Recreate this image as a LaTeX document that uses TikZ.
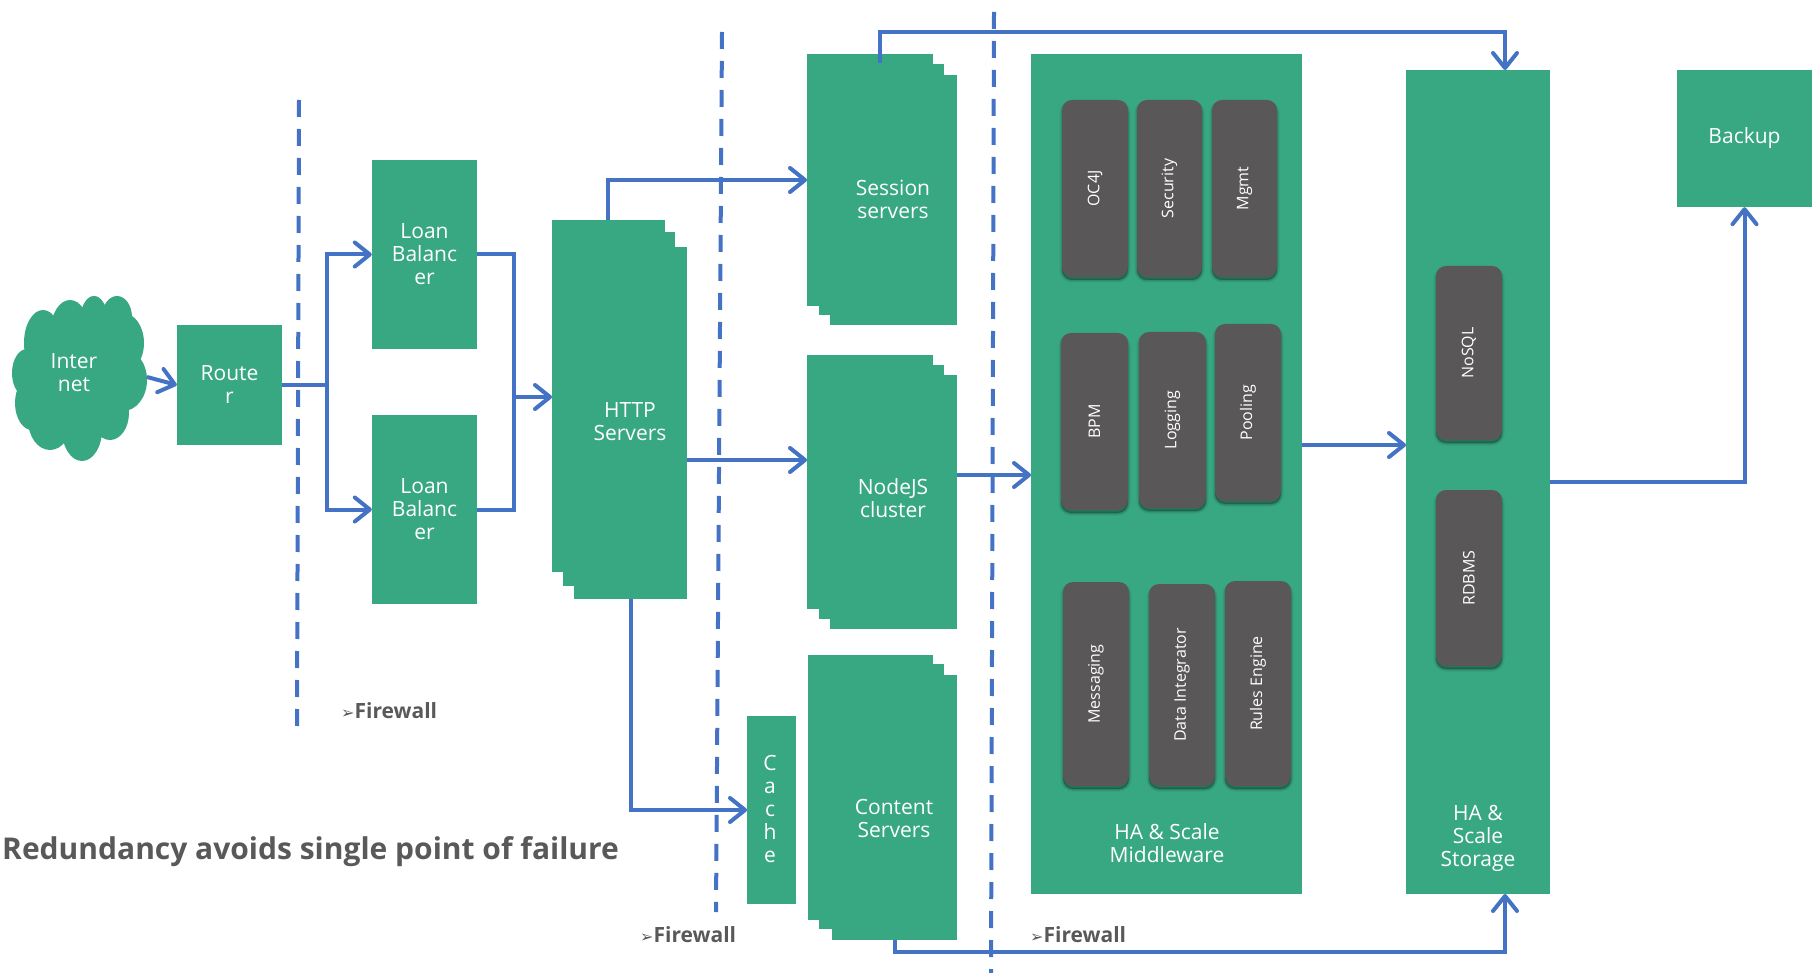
\documentclass[tikz,border=0pt]{standalone}
\usepackage{fontspec}
\setmainfont{Open Sans}
\newfontfamily\symfont{DejaVu Sans}
\usetikzlibrary{arrows.meta,shadows,calc}
\definecolor{teal1}{HTML}{38A882}
\definecolor{dark1}{HTML}{595757}
\definecolor{link}{HTML}{4472C4}
\definecolor{greytxt}{HTML}{595959}
\tikzset{
  box/.style={fill=teal1,text=white,inner sep=0pt,align=center,font=\fontsize{21}{23}\selectfont,anchor=center},
  softshadow/.style={
    general shadow={fill=black,opacity=.07,draw=black,line width=5pt,rounded corners=10pt,shadow yshift=-3pt},
    general shadow={fill=black,opacity=.10,draw=black,line width=2.5pt,rounded corners=10pt,shadow yshift=-3pt},
    general shadow={fill=black,opacity=.14,rounded corners=10pt,shadow yshift=-3pt}},
  chip/.style={softshadow,fill=dark1,text=white,rounded corners=10pt,inner sep=0pt,anchor=center,font=\fontsize{16}{18}\selectfont},
  chiptext/.style={text=white,rotate=90,inner sep=0pt,font=\fontsize{16}{18}\selectfont},
  link/.style={draw=link,line width=4pt,-{Straight Barb[length=15pt,width=24pt,line width=4pt,round]},line join=miter},
  fwall/.style={draw=link,line width=4pt,dash pattern=on 17pt off 12pt},
  note/.style={text=greytxt,font=\fontsize{21}{23}\selectfont\bfseries,inner sep=0pt,anchor=west},
  label/.style={text=white,align=center,inner sep=0pt,font=\fontsize{21}{23}\selectfont},
}
% name, x0,y0,x1,y1, text
\newcommand{\rbox}[6]{%
  \pgfmathsetmacro{\cxx}{(#2+#4)/2}\pgfmathsetmacro{\cyy}{(#3+#5)/2}%
  \pgfmathsetmacro{\ww}{#4-#2}\pgfmathsetmacro{\hh}{#5-#3}%
  \node[box,minimum width=\ww pt,minimum height=\hh pt] (#1) at (\cxx,\cyy) {#6};}
\newcommand{\cchip}[6]{%
  \pgfmathsetmacro{\cxx}{(#2+#4)/2}\pgfmathsetmacro{\cyy}{(#3+#5)/2}%
  \pgfmathsetmacro{\ww}{#4-#2}\pgfmathsetmacro{\hh}{#5-#3}%
  \node[chip,minimum width=\ww pt,minimum height=\hh pt] (#1) at (\cxx,\cyy) {};
  \node[chiptext] (#1t) at (\cxx,\cyy) {#6};}
\begin{document}
\begin{tikzpicture}[x=1pt,y=-1pt]
\useasboundingbox (0,0) rectangle (1812,973);
% firewalls
\coordinate (f1a) at (299,100); \coordinate (f1b) at (297,728);
\coordinate (f2a) at (722,32);  \coordinate (f2b) at (716,912);
\coordinate (f3a) at (994,12);  \coordinate (f3b) at (991,973);
\draw[fwall] (f1a) -- (f1b);
\draw[fwall] (f2a) -- (f2b);
\draw[fwall] (f3a) -- (f3b);
% cloud
\fill[teal1] (43,343) ellipse (19 and 33) (70,330) ellipse (19 and 30) (94,317) ellipse (13 and 21)
  (117,317) ellipse (15 and 21) (123,343) ellipse (21 and 30) (123,380) ellipse (24 and 31)
  (110,413) ellipse (19 and 27) (82,430) ellipse (20 and 31) (50,420) ellipse (22 and 30)
  (32,403) ellipse (17 and 27) (27,373) ellipse (15 and 24) (78,378) ellipse (52 and 62);
\node[label] (inet) at (74,373) {Inter\\net};
\coordinate (inetout) at (147,377);
% boxes
\rbox{router}{177}{325}{282}{445}{Route\\r}
\rbox{lb1}{372}{160}{477}{349}{Loan\\Balanc\\er}
\rbox{lb2}{372}{415}{477}{604}{Loan\\Balanc\\er}
% HTTP stack
\rbox{http3}{574}{247}{687}{599}{}
\rbox{http2}{563}{232}{675}{586}{}
\rbox{http1}{552}{220}{665}{572}{}
\node[label] (httpt) at (630,422) {HTTP\\Servers};
% Session stack
\rbox{sess3}{830}{75}{957}{325}{}
\rbox{sess2}{819}{64}{944}{315}{}
\rbox{sess1}{807}{54}{933}{306}{}
\node[label] (sesst) at (893,199) {Session\\servers};
% NodeJS stack
\rbox{node3}{830}{375}{957}{629}{}
\rbox{node2}{819}{365}{944}{619}{}
\rbox{node1}{807}{355}{933}{609}{}
\node[label] (nodet) at (893,498) {NodeJS\\cluster};
% Content stack
\rbox{cont3}{832}{675}{957}{940}{}
\rbox{cont2}{819}{664}{944}{929}{}
\rbox{cont1}{808}{655}{933}{920}{}
\node[label] (contt) at (894,818) {Content\\Servers};
\rbox{cache}{747}{716}{796}{904}{}
\node[label] (cachet) at (770,809) {C\\a\\c\\h\\e};
% middleware
\rbox{mid}{1031}{54}{1302}{894}{}
\node[label] (midt) at (1167,843) {HA \& Scale\\Middleware};
\rbox{stor}{1406}{70}{1550}{894}{}
\node[label] (stort) at (1478,838) {HA \&\\Scale\\Storage};
\rbox{backup}{1677}{70}{1812}{207}{Backup}
% chips
\cchip{oc}{1062}{100}{1128}{277}{OC4J}
\cchip{sec}{1137}{100}{1202}{277}{Security}
\cchip{mg}{1212}{100}{1277}{277}{Mgmt}
\cchip{bpm}{1061}{333}{1128}{510}{BPM}
\cchip{log}{1139}{332}{1206}{508}{Logging}
\cchip{pool}{1215}{324}{1281}{501}{Pooling}
\cchip{msg}{1063}{582}{1129}{786}{Messaging}
\cchip{di}{1149}{584}{1215}{786}{Data Integrator}
\cchip{rul}{1225}{581}{1291}{786}{Rules Engine}
\cchip{nosql}{1436}{266}{1502}{440}{NoSQL}
\cchip{rdb}{1436}{490}{1502}{666}{RDBMS}
% connectors
\coordinate (j1) at (327,385);
\coordinate (j2) at (514,397);
\draw[link] (inetout) -- (router.west);
\draw[link] (router.east) -- (j1) |- (lb1.west);
\draw[link] (j1) |- (lb2.west);
\draw[draw=link,line width=4pt] (lb1.east) -| (j2);
\draw[draw=link,line width=4pt] (lb2.east) -| (j2);
\coordinate (httpin) at (552,397);
\draw[link] (j2) -- (httpin);
\coordinate (hs) at (608,220); \coordinate (ss) at (807,180);
\draw[link] (hs) |- (ss);
\coordinate (hn) at (687,460); \coordinate (ns) at (807,460);
\draw[link] (hn) -- (ns);
\coordinate (hc) at (631,599); \coordinate (cc) at (747,810);
\draw[link] (hc) |- (cc);
\coordinate (nm) at (957,475); \coordinate (mn) at (1031,475);
\draw[link] (nm) -- (mn);
\coordinate (ms) at (1302,445); \coordinate (sm) at (1406,445);
\draw[link] (ms) -- (sm);
\coordinate (sb) at (1550,482);
\draw[link] (sb) -| (backup.south);
\coordinate (st) at (880,63); \coordinate (sn) at (880,32); \coordinate (stn) at (1505,70);
\draw[link] (st) -- (sn) -| (stn);
\coordinate (cs) at (895,940); \coordinate (cn) at (895,952); \coordinate (stb) at (1505,894);
\draw[link] (cs) -- (cn) -| (stb);
% notes
\node[note] (n1) at (341,711) {{\symfont\fontsize{16}{18}\selectfont ➢}Firewall};
\node[note] (n2) at (640,935) {{\symfont\fontsize{16}{18}\selectfont ➢}Firewall};
\node[note] (n3) at (1030,935) {{\symfont\fontsize{16}{18}\selectfont ➢}Firewall};
\node[note,font=\fontsize{30}{32}\selectfont\bfseries] (title) at (2,852) {Redundancy avoids single point of failure};
\end{tikzpicture}
\end{document}
